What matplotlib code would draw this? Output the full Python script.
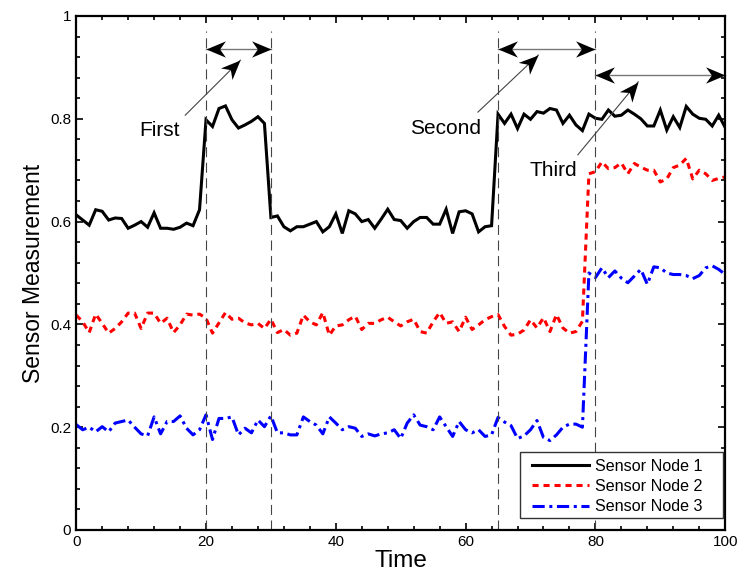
import numpy as np
import matplotlib
matplotlib.use("Agg")
import matplotlib.pyplot as plt
from matplotlib.ticker import MultipleLocator
from matplotlib.path import Path
from matplotlib.markers import MarkerStyle
from matplotlib.transforms import Affine2D
from matplotlib.patches import Rectangle

plt.rcParams['font.family'] = ['Liberation Sans', 'DejaVu Sans']

time = list(range(0, 101))

node1 = [0.613, 0.603, 0.593, 0.623, 0.620, 0.603, 0.607, 0.606, 0.587, 0.593,
         0.600, 0.589, 0.617, 0.587, 0.587, 0.585, 0.589, 0.597, 0.592, 0.623,
         0.798, 0.785, 0.820, 0.825, 0.798, 0.782, 0.788, 0.795, 0.804, 0.791,
         0.608, 0.611, 0.590, 0.582, 0.590, 0.590, 0.595, 0.600, 0.580, 0.590,
         0.615, 0.577, 0.621, 0.615, 0.600, 0.604, 0.587, 0.605, 0.624, 0.604,
         0.602, 0.587, 0.600, 0.608, 0.608, 0.595, 0.595, 0.624, 0.577, 0.619,
         0.621, 0.615, 0.580, 0.590, 0.592, 0.809, 0.791, 0.809, 0.781, 0.809,
         0.799, 0.814, 0.811, 0.820, 0.817, 0.791, 0.807, 0.788, 0.777, 0.809,
         0.801, 0.799, 0.817, 0.805, 0.807, 0.817, 0.809, 0.800, 0.786, 0.786,
         0.817, 0.778, 0.804, 0.783, 0.824, 0.809, 0.801, 0.799, 0.786, 0.807,
         0.783]

node2 = [0.418, 0.405, 0.384, 0.420, 0.402, 0.383, 0.392, 0.405, 0.422, 0.422,
         0.392, 0.422, 0.422, 0.402, 0.412, 0.384, 0.399, 0.420, 0.418, 0.420,
         0.412, 0.383, 0.403, 0.423, 0.410, 0.412, 0.403, 0.399, 0.402, 0.392,
         0.410, 0.384, 0.390, 0.379, 0.383, 0.418, 0.405, 0.399, 0.423, 0.379,
         0.397, 0.399, 0.409, 0.416, 0.390, 0.402, 0.402, 0.409, 0.414, 0.405,
         0.397, 0.405, 0.410, 0.386, 0.383, 0.405, 0.423, 0.402, 0.405, 0.386,
         0.414, 0.390, 0.399, 0.409, 0.415, 0.419, 0.396, 0.379, 0.381, 0.389,
         0.409, 0.393, 0.413, 0.386, 0.419, 0.393, 0.383, 0.386, 0.406, 0.693,
         0.697, 0.716, 0.703, 0.705, 0.714, 0.693, 0.713, 0.706, 0.700, 0.700,
         0.677, 0.683, 0.705, 0.710, 0.723, 0.683, 0.700, 0.693, 0.680, 0.684,
         0.687]

node3 = [0.205, 0.195, 0.200, 0.191, 0.201, 0.191, 0.208, 0.211, 0.214, 0.200,
         0.187, 0.183, 0.220, 0.187, 0.211, 0.211, 0.222, 0.198, 0.185, 0.195,
         0.224, 0.176, 0.217, 0.217, 0.220, 0.185, 0.198, 0.189, 0.214, 0.201,
         0.222, 0.189, 0.189, 0.185, 0.185, 0.220, 0.211, 0.204, 0.187, 0.220,
         0.208, 0.195, 0.201, 0.198, 0.182, 0.187, 0.183, 0.187, 0.189, 0.195,
         0.178, 0.208, 0.224, 0.204, 0.201, 0.195, 0.220, 0.201, 0.182, 0.211,
         0.195, 0.189, 0.195, 0.182, 0.185, 0.219, 0.210, 0.203, 0.178, 0.183,
         0.195, 0.213, 0.180, 0.174, 0.185, 0.200, 0.206, 0.206, 0.200, 0.500,
         0.491, 0.510, 0.491, 0.504, 0.490, 0.481, 0.494, 0.507, 0.478, 0.512,
         0.510, 0.500, 0.497, 0.497, 0.495, 0.489, 0.495, 0.510, 0.514, 0.507,
         0.497]

series_labels = ["Sensor Node 1", "Sensor Node 2", "Sensor Node 3"]
event_lines = [20, 30, 65, 80]
event_spans = [(20, 30, 0.936), (65, 80, 0.936), (80, 100, 0.885)]
event_names = ["First", "Second", "Third"]
event_text_pos = [(12.9, 0.778), (56.9, 0.782), (73.5, 0.70)]
event_arrow_from = [(16.8, 0.807), (61.9, 0.813), (77.3, 0.73)]
event_arrow_to = [(25.3, 0.914), (71.2, 0.924), (86.6, 0.872)]

fig = plt.figure(figsize=(7.4, 5.81), dpi=100)
ax = fig.add_axes([0.103, 0.0878, 0.877, 0.8847])
ax.set_xlim(0, 100)
ax.set_ylim(0, 1)

ax.plot(time, node1, color='black', lw=2.2, solid_joinstyle='miter', label=series_labels[0])
ax.plot(time, node2, color='red', lw=2.2, ls=(0, (2, 1.6)), label=series_labels[1])
ax.plot(time, node3, color='blue', lw=2.2, ls=(0, (4, 1.5, 1, 1.5)), label=series_labels[2])

for xv in event_lines:
    ax.plot([xv, xv], [0, 0.97], color='#444444', lw=0.8, ls=(0, (9, 5)))

# stealth arrow head marker, tip at origin pointing to +x
head_path = Path([(0, 0), (-1, 0.42), (-0.7, 0), (-1, -0.42), (0, 0)],
                 [Path.MOVETO, Path.LINETO, Path.LINETO, Path.LINETO, Path.CLOSEPOLY])


def draw_head(p_from, p_to, size=28):
    a = ax.transData.transform(p_from)
    b = ax.transData.transform(p_to)
    ang = np.degrees(np.arctan2(b[1] - a[1], b[0] - a[0]))
    m = MarkerStyle(head_path, transform=Affine2D().rotate_deg(ang))
    ax.plot([p_to[0]], [p_to[1]], marker=m, ms=size, color='black',
            markeredgewidth=0, linestyle='none', clip_on=False, zorder=5)


for (x0, x1, yv) in event_spans:
    ax.plot([x0, x1], [yv, yv], color='#777777', lw=1.0, clip_on=False)
    draw_head((x1, yv), (x0, yv))
    draw_head((x0, yv), (x1, yv))

for name, tp, af, at in zip(event_names, event_text_pos, event_arrow_from, event_arrow_to):
    ax.text(tp[0], tp[1], name, fontsize=15, ha='center', va='center')
    ax.plot([af[0], at[0]], [af[1], at[1]], color='#444444', lw=0.8)
    draw_head(af, at)

ax.set_xticks([0, 20, 40, 60, 80, 100])
ax.xaxis.set_minor_locator(MultipleLocator(4))
ax.set_yticks([0, 0.2, 0.4, 0.6, 0.8, 1.0])
ax.set_yticklabels(['0', '0.2', '0.4', '0.6', '0.8', '1'])
ax.yaxis.set_minor_locator(MultipleLocator(0.04))
ax.tick_params(which='both', direction='in', top=True, right=True, labelsize=11, width=1.2)
ax.tick_params(which='major', length=5)
ax.tick_params(which='minor', length=3)
for sp in ax.spines.values():
    sp.set_linewidth(1.6)

ax.set_xlabel('Time', fontsize=17.5, labelpad=1)
ax.set_ylabel('Sensor Measurement', fontsize=16.5, labelpad=4)

# legend box (drawn separately to match the reference's proportions)
ax.add_patch(Rectangle((0.684, 0.0233), 0.313, 0.1285, transform=ax.transAxes,
                       facecolor='white', edgecolor='#333333', lw=1.0, zorder=6))
leg = ax.legend(loc='upper left', fontsize=11.6, frameon=False,
                handlelength=3.5, borderpad=0, labelspacing=0.33,
                handletextpad=0.4, borderaxespad=0,
                bbox_to_anchor=(0.7026, 0.139))
leg.set_zorder(7)

fig.savefig('out.png', dpi=100)
